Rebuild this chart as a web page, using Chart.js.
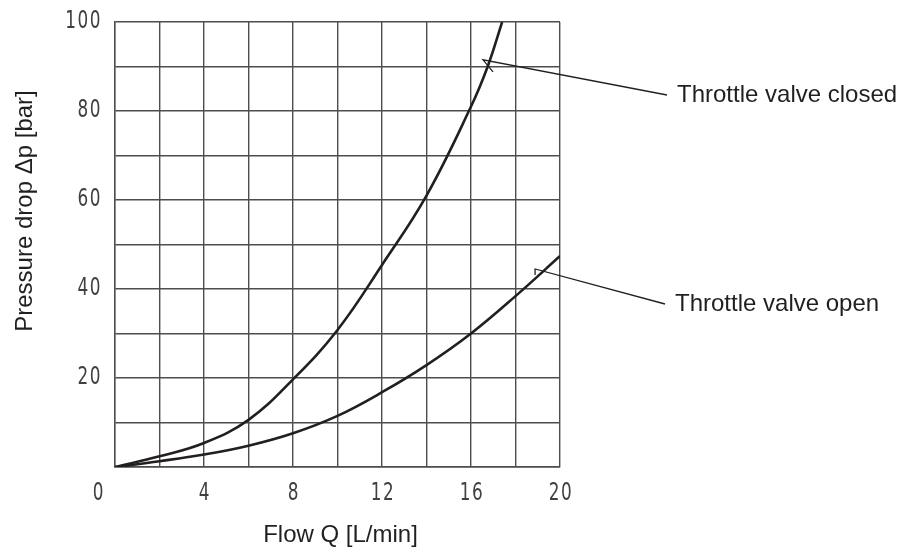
<!DOCTYPE html>
<html>
<head>
<meta charset="utf-8">
<script src="https://cdn.jsdelivr.net/npm/chart.js@4/dist/chart.umd.min.js"></script>
<style>
  html, body { margin: 0; padding: 0; background: #fff; }
  #wrap { width: 909px; height: 547px; }
</style>
</head>
<body>
<div id="wrap"><canvas id="pressure_drop_chart"></canvas></div>
<script>
"use strict";

// Flow Q [L/min] and pressure drop [bar]
var closedFlow = [0, 2, 4, 6, 8, 10, 12, 14, 16, 16.75, 17.4];
var closedDrop = [0, 2.4, 5.4, 10.6, 19.7, 30.8, 45.4, 61, 81, 90, 100];

var openFlow = [0, 2, 4, 6, 8, 10, 12, 14, 16, 18, 20];
var openDrop = [0, 1.3, 2.8, 4.8, 7.6, 11.5, 16.8, 22.9, 30, 38.4, 47.4];

var xTickLabels = [0, 4, 8, 12, 16, 20];
var yTickLabels = [20, 40, 60, 80, 100];

var xTitle = "Flow Q [L/min]";
var yTitle = "Pressure drop \u0394p [bar]";

var seriesNames = ["Throttle valve closed", "Throttle valve open"];

var PressureDropChart = function () {
    var inkColor = "#231f20";
    var gridColor = "#4d4d4d";
    var textFont = "24px 'Liberation Sans', Arial, sans-serif";
    var tickFont = "24px 'Liberation Sans Narrow', 'DejaVu Sans Condensed', sans-serif";

    function toPoints(xs, ys) {
        return xs.map(function (x, i) { return { x: x, y: ys[i] }; });
    }

    // Leader lines: tip sits on the curve (data coords), label is outside the plot (pixels)
    var callouts = [
        { name: seriesNames[0], tipQ: 16.54, tipP: 91.5, barbDx: 10, barbDy: 12, endX: 667, endY: 95 },
        { name: seriesNames[1], tipQ: 18.88, tipP: 44.5, barbDx: 0, barbDy: 6, endX: 665, endY: 304 }
    ];

    // thin, squeezed digits like the drafting font of the original
    function drawTick(ctx, text, x, y, align) {
        ctx.save();
        ctx.translate(x, y);
        ctx.scale(0.78, 1);
        ctx.textAlign = align;
        ctx.fillText(text, 0, 0);
        ctx.restore();
    }

    var textPlugin = {
        id: "textPlugin",
        afterDraw: function (chart) {
            var ctx = chart.ctx;
            var xs = chart.scales.x;
            var ys = chart.scales.y;
            var area = chart.chartArea;
            ctx.save();
            ctx.fillStyle = "#404040";

            ctx.font = tickFont;
            ctx.letterSpacing = "2px";
            ctx.textBaseline = "middle";
            xTickLabels.forEach(function (v) {
                var px = xs.getPixelForValue(v);
                if (v === 0) px -= 17; // origin label sits left of the corner
                drawTick(ctx, String(v), px + 1, area.bottom + 27, "center");
            });
            yTickLabels.forEach(function (v) {
                drawTick(ctx, String(v), area.left - 13, ys.getPixelForValue(v), "right");
            });
            ctx.letterSpacing = "0px";

            // axis titles
            ctx.fillStyle = inkColor;
            ctx.font = textFont;
            ctx.textAlign = "center";
            ctx.fillText(xTitle, (area.left + area.right) / 2 + 3, area.bottom + 68);
            ctx.save();
            ctx.translate(25, 211);
            ctx.rotate(-Math.PI / 2);
            ctx.fillText(yTitle, 0, 0);
            ctx.restore();

            // callouts
            ctx.strokeStyle = inkColor;
            ctx.lineWidth = 1.3;
            ctx.textAlign = "left";
            callouts.forEach(function (c) {
                var tx = xs.getPixelForValue(c.tipQ);
                var ty = ys.getPixelForValue(c.tipP);
                ctx.beginPath();
                ctx.moveTo(c.endX, c.endY);
                ctx.lineTo(tx, ty);
                ctx.lineTo(tx + c.barbDx, ty + c.barbDy);
                ctx.stroke();
                ctx.fillText(c.name, c.endX + 10, c.endY);
            });
            ctx.restore();
        }
    };

    var initChart = function () {
        var element = document.getElementById("pressure_drop_chart");
        if (!element) {
            return;
        }

        var config = {
            type: "line",
            data: {
                datasets: [{
                    label: seriesNames[0],
                    data: toPoints(closedFlow, closedDrop),
                    borderColor: inkColor,
                    borderWidth: 2.6,
                    pointRadius: 0,
                    tension: 0.4
                }, {
                    label: seriesNames[1],
                    data: toPoints(openFlow, openDrop),
                    borderColor: inkColor,
                    borderWidth: 2.6,
                    pointRadius: 0,
                    tension: 0.4
                }]
            },
            options: {
                responsive: false,
                animation: false,
                layout: {
                    padding: { left: 115, top: 22, right: 349, bottom: 80 }
                },
                scales: {
                    x: {
                        type: "linear",
                        min: 0,
                        max: 20,
                        ticks: { stepSize: 2, display: false },
                        grid: { color: gridColor, lineWidth: 1.4, drawTicks: false },
                        border: { color: gridColor, width: 1.4 },
                        afterFit: function (s) { s.height = 0; }
                    },
                    y: {
                        min: 0,
                        max: 100,
                        ticks: { stepSize: 10, display: false },
                        grid: { color: gridColor, lineWidth: 1.4, drawTicks: false },
                        border: { color: gridColor, width: 1.4 },
                        afterFit: function (s) { s.width = 0; }
                    }
                },
                plugins: {
                    legend: { display: false },
                    tooltip: { enabled: false }
                }
            },
            plugins: [textPlugin]
        };

        element.width = 909;
        element.height = 547;
        element.chartInstance = new Chart(element.getContext("2d"), config);
    };

    return {
        init: function () {
            initChart();
        }
    };
}();

document.addEventListener("DOMContentLoaded", function () {
    PressureDropChart.init();
});
</script>
</body>
</html>
